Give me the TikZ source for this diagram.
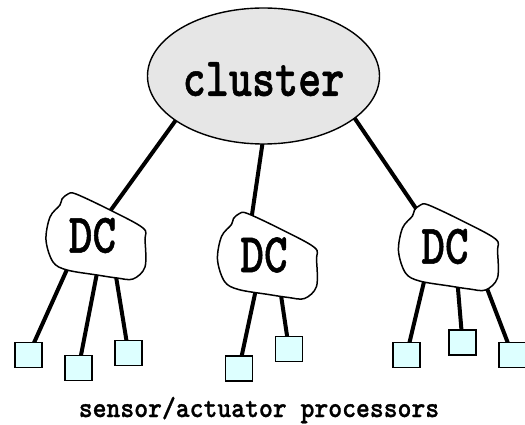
\documentclass[tikz,border=0pt]{standalone}
\usepackage{fontspec}
\usepackage{graphicx}
\usetikzlibrary{shapes.geometric,calc}
\newfontfamily\heavytt{lmmonolt10-bold.otf}[FakeBold=1]
\pgfdeclarelayer{background}
\pgfsetlayers{background,main}
\definecolor{clgray}{HTML}{E6E6E6}
\definecolor{leafcyan}{HTML}{DDFFFF}
\tikzset{
  clusterbox/.style={ellipse, draw, line width=1.4pt, fill=clgray, inner sep=0pt,
    minimum width=232pt, minimum height=136pt,
    font=\fontsize{44}{44}\selectfont\heavytt},
  dctext/.style={inner sep=0pt, font=\fontsize{45}{45}\selectfont\heavytt},
  leaf/.style={draw, line width=1.8pt, fill=leafcyan, minimum width=27pt,
    minimum height=25pt, inner sep=0pt},
  conn/.style={line width=4pt},
  captext/.style={inner sep=0pt, font=\fontsize{26.4}{26.4}\selectfont\heavytt},
  dcblob/.pic={
    \draw[line width=1.5pt, fill=white] plot[smooth cycle, tension=0.55] coordinates {
      (-32.5,-30.5) (-30.5,-36.5) (-24.5,-41.5) (-16.5,-41.5) (17.5,-25.5)
      (50.5,-7.5) (52.5,4.5) (52.5,31.5) (40.5,43.5) (24.5,42.5) (4.5,39.5)
      (-25.5,34.5) (-39.5,26.5) (-46.5,4.5) (-42.5,-18.5)};
  }
}
\begin{document}
\begin{tikzpicture}[x=1pt, y=-1pt]
\useasboundingbox (0,0) rectangle (525,425);
% cluster
\node[clusterbox] (cl) at (263.5,76) {\raisebox{-3pt}[\height][0pt]{\scalebox{1}[1.25]{cluster}}};
% DC blobs and labels
\pic at (92.5,235.5) {dcblob};
\node[dctext] (dc1) at (92.5,235.5) {\scalebox{1}[1.24]{DC}};
\pic at (264,255) {dcblob};
\node[dctext] (dc2) at (264,255) {\scalebox{1}[1.24]{DC}};
\pic at (445,246.5) {dcblob};
\node[dctext] (dc3) at (445,246.5) {\scalebox{1}[1.24]{DC}};
% leaves
\node[leaf] (s1) at (28.5,355) {};
\node[leaf] (s2) at (78.5,368) {};
\node[leaf] (s3) at (128.5,353) {};
\node[leaf] (s4) at (239,368.5) {};
\node[leaf] (s5) at (289,349) {};
\node[leaf] (s6) at (406.5,355) {};
\node[leaf] (s7) at (462.5,342.5) {};
\node[leaf] (s8) at (512.5,355) {};
% caption
\node[captext, anchor=base] (cap) at (259,417) {\scalebox{1}[1.1]{sensor/actuator processors}};
% connectors
\begin{pgfonlayer}{background}
\draw[conn] ($(cl.207)!-8pt!(dc1)$) -- (dc1);
\draw[conn] ($(cl.269)!-8pt!($(dc2)+(-15,-20)$)$) -- ($(dc2)+(-15,-20)$);
\draw[conn] ($(cl.335)!-8pt!($(dc3)+(-11,-11.5)$)$) -- ($(dc3)+(-11,-11.5)$);
\draw[conn] ($(dc1)+(-19,19.5)$) -- (s1.center);
\draw[conn] ($(dc1)+(8,19.5)$) -- (s2.center);
\draw[conn] ($(dc1)+(20,19.5)$) -- (s3.center);
\draw[conn] ($(dc2)+(-5,20)$) -- (s4.center);
\draw[conn] ($(dc2)+(14,20)$) -- (s5.center);
\draw[conn] ($(dc3)+(-17,18.5)$) -- (s6.center);
\draw[conn] ($(dc3)+(11,18.5)$) -- (s7.center);
\draw[conn] ($(dc3)+(33,18.5)$) -- (s8.center);
\end{pgfonlayer}
\end{tikzpicture}
\end{document}
